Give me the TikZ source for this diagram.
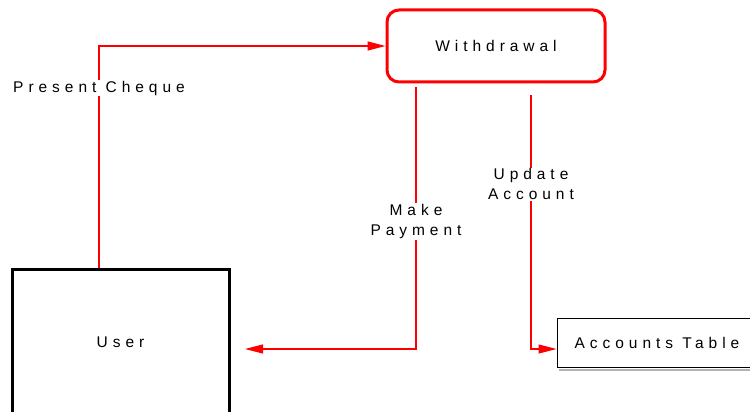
\documentclass[tikz,border=0pt]{standalone}
\usepackage{fontspec}
\setmainfont{Liberation Sans}[LetterSpace=32]
\usetikzlibrary{arrows.meta}

\begin{document}
\begin{tikzpicture}[x=1pt, y=-1pt,
  every node/.style={font=\fontsize{15.5}{20}\selectfont},
  process/.style={draw=red, line width=3pt, rounded corners=12pt,
    minimum width=218pt, minimum height=72pt},
  entity/.style={draw, line width=3pt, minimum width=217pt, minimum height=146pt},
  store/.style={draw, line width=1pt, fill=white, minimum width=200pt, minimum height=49pt},
  flow/.style={red, line width=1.2pt, -{Triangle[length=18pt,width=9pt]}},
  lbl/.style={fill=white, text=black, align=center, inner sep=1pt}]
  \useasboundingbox (0,0) rectangle (750,412);
  \node[process] (wd) at (496,46) {Withdrawal};
  \node[entity] (user) at (120.5,342) {User};
  \node[store] (acct) at (657,342.5) {Accounts Table};
  \draw[gray!60, line width=2pt] ([xshift=2pt, yshift=-2pt]acct.south west) -- ([yshift=-2pt]acct.south east);
  % flows
  \draw[flow] ([xshift=-21.5pt]user.north) |- node[lbl, pos=0.405] {Present Cheque} (wd.west);
  \draw[flow, shorten <=4pt, shorten >=14.5pt] ([xshift=-80pt]wd.south) |- node[lbl, pos=0.26] {Make\\Payment} ([yshift=-7pt]user.east);
  \draw[flow, shorten <=12pt] ([xshift=35pt]wd.south) |- node[lbl, pos=0.19] {Update\\Account} ([yshift=-6.5pt]acct.west);
\end{tikzpicture}
\end{document}
